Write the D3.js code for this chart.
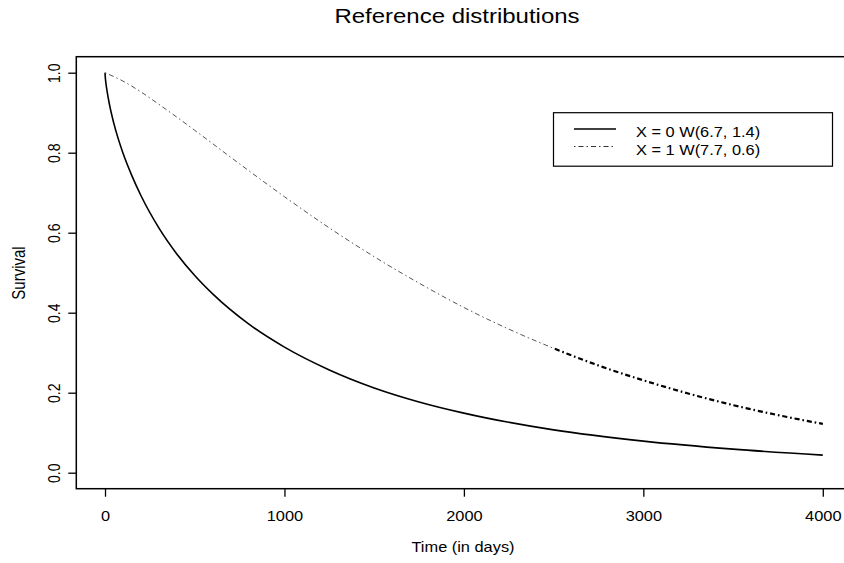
<!DOCTYPE html>
<html>
<head>
<meta charset="utf-8">
<script src="https://cdn.jsdelivr.net/npm/d3@7"></script>
<style>
  body { margin: 0; background: white; }
  text { font-family: "Liberation Sans", Arial, Helvetica, sans-serif; fill: black; }
</style>
</head>
<body>
<svg id="chart" width="844" height="563"></svg>
<script>
// survival
const times0 = [0, 2, 5, 10, 25, 50, 100, 150, 200, 300, 400, 500, 600, 800, 1000, 1250, 1500, 1750, 2000, 2500, 3000, 3500, 4000];
const surv0 = [1, 0.986, 0.974, 0.958, 0.920, 0.872, 0.799, 0.742, 0.693, 0.612, 0.547, 0.493, 0.447, 0.372, 0.314, 0.257, 0.212, 0.177, 0.149, 0.107, 0.079, 0.059, 0.044];
const times1 = [0, 100, 200, 300, 400, 500, 750, 1000, 1250, 1500, 1750, 2000, 2250, 2500, 2750, 3000, 3250, 3500, 3750, 4000];
const surv1 = [1, 0.979, 0.952, 0.921, 0.889, 0.856, 0.772, 0.690, 0.612, 0.540, 0.474, 0.413, 0.359, 0.311, 0.268, 0.231, 0.198, 0.169, 0.144, 0.122];

const legend_labels = ['X = 0 W(6.7, 1.4)', 'X = 1 W(7.7, 0.6)'];
const x_ticks = [0, 1000, 2000, 3000, 4000];
const y_ticks = [0, 0.2, 0.4, 0.6, 0.8, 1.0];
const bold_from = 2500; // the dot-dash line is drawn heavier past here

const dotdash = '1.5,3,5,3';
const sx = 1.17; // the reference text is wider than it is tall

const svg = d3.select('#chart');
const x = d3.scaleLinear().domain([-160, 4160]).range([76.3, 851.5]);
const y = d3.scaleLinear().domain([-0.04, 1.04]).range([488.7, 56.7]);

function place(sel, px, py, rot) {
    sel.attr('transform', `translate(${px},${py}) scale(${sx},1)` + (rot ? ' rotate(-90)' : ''));
}

// axes
const x_axis = svg.append('g').attr('transform', `translate(0,${y.range()[0]})`)
    .call(d3.axisBottom(x).tickValues(x_ticks).tickSize(8).tickSizeOuter(0).tickFormat(d3.format('d')));
const y_axis = svg.append('g').attr('transform', `translate(${x.range()[0]},0)`)
    .call(d3.axisLeft(y).tickValues(y_ticks).tickSize(8).tickSizeOuter(0).tickFormat(d3.format('.1f')));
[x_axis, y_axis].forEach(a => {
    a.select('.domain').remove();
    a.selectAll('line').attr('stroke', 'black').attr('stroke-width', 1.3);
    a.selectAll('text').attr('font-size', 14).attr('font-family', null).attr('fill', 'black');
});
x_axis.selectAll('text').attr('y', null).attr('dy', null).attr('text-anchor', 'middle')
    .each(function () { place(d3.select(this), 0, 32); });
y_axis.selectAll('text').attr('x', null).attr('dy', null).attr('text-anchor', 'middle')
    .each(function () { place(d3.select(this), -16.3, 0, true); });

// plot box
svg.append('rect')
    .attr('x', x.range()[0]).attr('y', y.range()[1])
    .attr('width', x.range()[1] - x.range()[0]).attr('height', y.range()[0] - y.range()[1])
    .attr('fill', 'none').attr('stroke', 'black').attr('stroke-width', 1.5);

// curves
const line = d3.line().x(d => x(d[0])).y(d => y(d[1])).curve(d3.curveMonotoneX);
svg.append('path').datum(d3.zip(times0, surv0)).attr('d', line)
    .attr('fill', 'none').attr('stroke', 'black').attr('stroke-width', 1.6);
svg.append('path').datum(d3.zip(times1, surv1)).attr('d', line)
    .attr('fill', 'none').attr('stroke', '#555').attr('stroke-width', 1)
    .attr('stroke-dasharray', dotdash);

svg.append('clipPath').attr('id', 'late')
    .append('rect').attr('x', x(bold_from)).attr('y', 0)
    .attr('width', x.range()[1] - x(bold_from)).attr('height', 563);
svg.append('path').datum(d3.zip(times1, surv1)).attr('d', line)
    .attr('clip-path', 'url(#late)')
    .attr('fill', 'none').attr('stroke', 'black').attr('stroke-width', 2.2)
    .attr('stroke-dasharray', dotdash);

// legend
const lg = svg.append('g');
lg.append('rect').attr('x', 553.5).attr('y', 112.7).attr('width', 279).attr('height', 53.5)
    .attr('fill', 'white').attr('stroke', 'black').attr('stroke-width', 1.2);
legend_labels.forEach((label, i) => {
    const ly = 129 + i * 17.5;
    lg.append('line').attr('x1', 574).attr('x2', 616).attr('y1', ly).attr('y2', ly)
        .attr('stroke', i ? '#333' : 'black').attr('stroke-width', i ? 1.1 : 1.6)
        .attr('stroke-dasharray', i ? dotdash : null);
    place(lg.append('text').attr('font-size', 14).text(label), 636, ly + 8);
});

// titles
place(svg.append('text').attr('font-size', 20.5).attr('text-anchor', 'middle')
    .text('Reference distributions'), 457, 23);
place(svg.append('text').attr('font-size', 14).attr('text-anchor', 'middle')
    .text('Time (in days)'), 463, 552);
place(svg.append('text').attr('font-size', 15).attr('text-anchor', 'middle')
    .text('Survival'), 25, 273, true);
</script>
</body>
</html>
